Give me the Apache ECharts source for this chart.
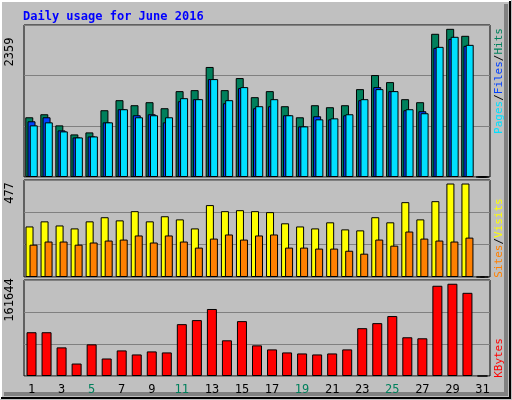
<!DOCTYPE html>
<html><head><meta charset="utf-8">
<script src="https://cdn.jsdelivr.net/npm/echarts@6/dist/echarts.min.js"></script>
<style>html,body{margin:0;padding:0;background:#c0c0c0}#c{width:512px;height:400px}</style>
</head><body><div id="c"></div>
<script>
const days = Array.from({length:31},(_,i)=>String(i+1));
const weekends = [4,5,11,12,18,19,25,26];
const hits  = [951,999,822,678,710,1063,1223,1143,1191,1095,1367,1383,1752,1383,1575,1271,1367,1127,951,1143,1111,1143,1399,1623,1511,1239,1191,2280,2359,2248,0];
const files = [887,951,742,630,646,870,1079,983,999,870,1207,1239,1559,1175,1415,1095,1127,983,806,967,918,983,1223,1431,1367,1063,1047,2056,2200,2088,0];
const pages = [822,870,726,630,646,870,1079,951,983,951,1255,1239,1559,1223,1431,1127,1239,983,806,918,934,999,1239,1399,1367,1079,1015,2072,2232,2104,0];
const visits= [258,284,263,248,284,305,289,336,284,310,294,248,367,336,341,336,331,274,258,248,279,243,238,305,279,382,294,387,477,477,0];
const sites = [165,181,181,165,176,186,191,212,176,212,181,150,196,217,191,212,217,150,150,145,145,134,119,191,160,232,196,186,181,201,0];
const kbytes= [76700,76700,50150,21830,55460,30680,44840,37760,43070,41300,90860,97940,117410,62540,96170,53690,46610,41300,39530,37760,39530,46610,83780,92630,105020,67850,66080,158120,161644,145730,0];
const maxLabels = ['2359','477','161644'];
const yMax = [2420,495,168200];

const font = 'DejaVu Sans Mono';
const grids = [
  {left:24,right:22,top:25,height:152},
  {left:24,right:22,top:180,height:97},
  {left:24,right:22,top:280,height:96}
];
const bs = {borderColor:'#000',borderWidth:1};
function xa(i){return {type:'category',gridIndex:i,data:days,axisTick:{show:false},axisLine:{show:false},
  axisLabel:{show:i===2,fontFamily:font,fontSize:12,margin:8,
   color:(v)=>weekends.includes(+v)?'#00805c':'#000'}};}
function ya(i){return {type:'value',gridIndex:i,min:0,max:yMax[i],interval:yMax[i]/3,axisLabel:{show:false},
  axisLine:{show:false},axisTick:{show:false},splitLine:{lineStyle:{color:'#808080',width:1}}};}
const chart = echarts.init(document.getElementById('c'));
chart.setOption({
  backgroundColor:'#c0c0c0',
  animation:false,
  title:{text:'Daily usage for June 2016',left:18,top:6,textStyle:{fontFamily:font,fontSize:12,fontWeight:'bold',color:'#0000ff'}},
  grid:grids.map(g=>Object.assign({show:true,backgroundColor:'#c0c0c0',borderColor:'#000',borderWidth:1},g)),
  xAxis:[xa(0),xa(1),xa(2)],
  yAxis:[ya(0),ya(1),ya(2)],
  series:[
    {type:'bar',xAxisIndex:0,yAxisIndex:0,data:hits,barWidth:8,barGap:'-72%',itemStyle:Object.assign({color:'#00805c'},bs)},
    {type:'bar',xAxisIndex:0,yAxisIndex:0,data:files,barWidth:8,barGap:'-72%',itemStyle:Object.assign({color:'#0040ff'},bs)},
    {type:'bar',xAxisIndex:0,yAxisIndex:0,data:pages,barWidth:8,barGap:'-72%',itemStyle:Object.assign({color:'#00e0ff'},bs)},
    {type:'bar',xAxisIndex:1,yAxisIndex:1,data:visits,barWidth:8,barGap:'-50%',itemStyle:Object.assign({color:'#ffff00'},bs)},
    {type:'bar',xAxisIndex:1,yAxisIndex:1,data:sites,barWidth:8,barGap:'-50%',itemStyle:Object.assign({color:'#ff8000'},bs)},
    {type:'bar',xAxisIndex:2,yAxisIndex:2,data:kbytes,barWidth:10,itemStyle:Object.assign({color:'#ff0000'},bs)}
  ],
  graphic:[
    {type:'polyline',shape:{points:[[1,399],[1,1],[511,1]]},style:{stroke:'#fff',lineWidth:2,fill:null}},
    {type:'polyline',shape:{points:[[1,398],[510,398],[510,1]]},style:{stroke:'#000',lineWidth:2,fill:null}},
    {type:'polyline',shape:{points:[[4,394],[506,394],[506,4]]},style:{stroke:'#808080',lineWidth:4,fill:null}},
    {type:'text',x:10,y:52,rotation:Math.PI/2,style:{text:maxLabels[0],font:'12px '+font,fill:'#000',align:'center',verticalAlign:'middle'}},
    {type:'text',x:10,y:193,rotation:Math.PI/2,style:{text:maxLabels[1],font:'12px '+font,fill:'#000',align:'center',verticalAlign:'middle'}},
    {type:'text',x:10,y:300,rotation:Math.PI/2,style:{text:maxLabels[2],font:'12px '+font,fill:'#000',align:'center',verticalAlign:'middle'}},
    {type:'text',x:499,y:81,rotation:Math.PI/2,style:{text:'{p|Pages}{s|/}{f|Files}{s|/}{h|Hits}',align:'center',verticalAlign:'middle',
      rich:{p:{fill:'#00e0ff',font:'11px '+font},f:{fill:'#0040ff',font:'11px '+font},h:{fill:'#00805c',font:'11px '+font},s:{fill:'#000',font:'11px '+font}}}},
    {type:'text',x:499,y:238,rotation:Math.PI/2,style:{text:'{p|Sites}{s|/}{f|Visits}',align:'center',verticalAlign:'middle',
      rich:{p:{fill:'#ff8000',font:'11px '+font},f:{fill:'#ffff00',font:'11px '+font},s:{fill:'#000',font:'11px '+font}}}},
    {type:'text',x:499,y:358,rotation:Math.PI/2,style:{text:'KBytes',fill:'#ff0000',font:'11px '+font,align:'center',verticalAlign:'middle'}}
  ]
});
</script></body></html>
